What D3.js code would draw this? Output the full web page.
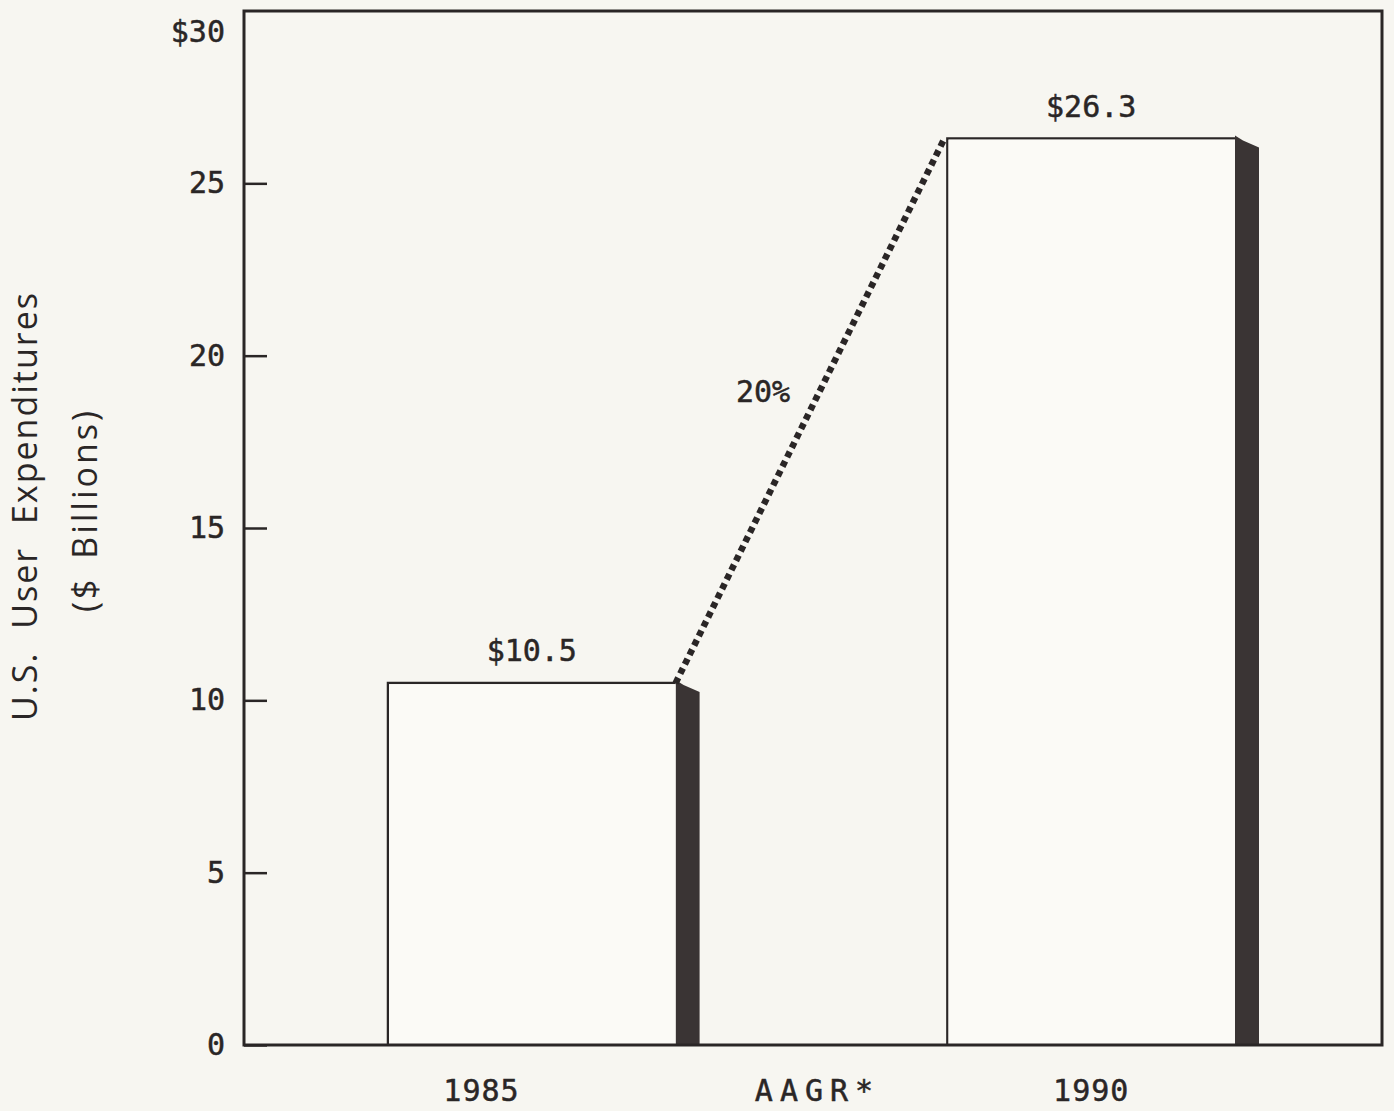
<!DOCTYPE html>
<html>
<head>
<meta charset="utf-8">
<script src="https://cdn.jsdelivr.net/npm/d3@7/dist/d3.min.js"></script>
<style>
  html, body { margin: 0; padding: 0; background: #f7f6f1; }
  svg { display: block; }
  .mono { font-family: "DejaVu Sans Mono", "Liberation Mono", monospace; fill: #2a2626; stroke: #2a2626; stroke-width: 0.5; }
  .title { font-family: "Open Sans", "Noto Sans", sans-serif; font-weight: 500; fill: #2a2626; }
</style>
</head>
<body>
<svg id="chart" width="1394" height="1111"></svg>
<script>
// Expenditure data ($ billions)
const years = ["1985", "1990"];
const values = [10.5, 26.3];
const valueLabels = ["$10.5", "$26.3"];
const growthLabel = "20%";
const xLabels = ["1985", "AAGR*", "1990"];
const yTicks = [0, 5, 10, 15, 20, 25, 30];
const yTickLabels = ["0", "5", "10", "15", "20", "25", "$30"];

const W = 1394, H = 1111;
const frame = { left: 244, right: 1382, top: 11, bottom: 1045 };
const ink = "#2a2626";
const shade = "#3a3434";
const sideW = 24;
const fontSize = 30;

const svg = d3.select("#chart");
svg.append("rect").attr("width", W).attr("height", H).attr("fill", "#f7f6f1");

const y = d3.scaleLinear().domain([0, 30]).range([frame.bottom, frame.top]);
const x = d3.scaleBand().domain(years).range([388, 1259]).paddingInner(0.443).paddingOuter(0);
const bw = x.bandwidth();

// Bars: open white face with a dark shadow side on the right
const bars = svg.append("g");
years.forEach((yr, i) => {
  const x0 = x(yr), x1 = x0 + bw - sideW, x2 = x0 + bw;
  const top = y(values[i]);
  bars.append("path")
    .attr("d", `M${x1},${top - 3} L${x1 + 8},${top + 2} L${x2},${top + 9} L${x2},${y(0)} L${x1},${y(0)} Z`)
    .attr("fill", shade);
  bars.append("path")
    .attr("d", `M${x0},${y(0)} L${x0},${top} L${x1},${top}`)
    .attr("fill", "none").attr("stroke", ink).attr("stroke-width", 2.5);
  bars.append("rect")
    .attr("x", x0 + 1).attr("y", top + 1).attr("width", x1 - x0 - 1).attr("height", y(0) - top - 1)
    .attr("fill", "#fbfaf6");
  bars.append("text").attr("class", "mono")
    .attr("x", x0 + (bw - sideW) / 2).attr("y", top - 22)
    .attr("text-anchor", "middle").attr("font-size", fontSize)
    .text(valueLabels[i]);
});

// Growth connector between bar tops
const p0 = [x(years[0]) + bw - sideW, y(values[0])];
const p1 = [x(years[1]) - 3, y(values[1])];
svg.append("line")
  .attr("x1", p0[0]).attr("y1", p0[1]).attr("x2", p1[0]).attr("y2", p1[1])
  .attr("stroke", ink).attr("stroke-width", 6.5).attr("stroke-dasharray", "6,4.5");
svg.append("text").attr("class", "mono")
  .attr("x", 763).attr("y", 402).attr("text-anchor", "middle").attr("font-size", fontSize)
  .text(growthLabel);

// Frame
svg.append("rect")
  .attr("x", frame.left).attr("y", frame.top)
  .attr("width", frame.right - frame.left).attr("height", frame.bottom - frame.top)
  .attr("fill", "none").attr("stroke", ink).attr("stroke-width", 3);

// Y axis: inward ticks
const yAxis = svg.append("g").attr("transform", `translate(${frame.left},0)`)
  .call(d3.axisLeft(y).tickValues(yTicks).tickSize(-23).tickPadding(19)
    .tickFormat((d, i) => yTickLabels[i]));
yAxis.select(".domain").remove();
yAxis.selectAll(".tick line").attr("stroke", ink).attr("stroke-width", 2.5);
yAxis.selectAll(".tick text")
  .attr("class", "mono").attr("font-size", fontSize).attr("fill", ink)
  .attr("font-family", "DejaVu Sans Mono");
yAxis.selectAll(".tick").filter(d => d === 30).select("line").remove();
yAxis.selectAll(".tick").filter(d => d === 30).select("text").attr("dy", "1.0em");

// X labels
const xLabelPos = [
  x(years[0]) + bw * 0.3,
  (x(years[0]) + bw + x(years[1])) / 2 - 6,
  x(years[1]) + (bw - sideW) / 2
];
svg.append("g").selectAll("text").data(xLabels).join("text")
  .attr("class", "mono")
  .attr("x", (d, i) => xLabelPos[i]).attr("y", 1101)
  .attr("text-anchor", "middle").attr("font-size", fontSize)
  .attr("letter-spacing", (d, i) => i === 1 ? 7 : 1)
  .text(d => d);

// Y axis title
const title = svg.append("g").attr("transform", "rotate(-90)");
title.append("text").attr("class", "title")
  .attr("x", -506).attr("y", 37).attr("text-anchor", "middle")
  .attr("font-size", 34).attr("letter-spacing", 2).attr("word-spacing", 12)
  .text("U.S. User Expenditures");
title.append("text").attr("class", "title")
  .attr("x", -510).attr("y", 97).attr("text-anchor", "middle")
  .attr("font-size", 34).attr("letter-spacing", 3).attr("word-spacing", 6)
  .text("($ Billions)");
</script>
</body>
</html>
